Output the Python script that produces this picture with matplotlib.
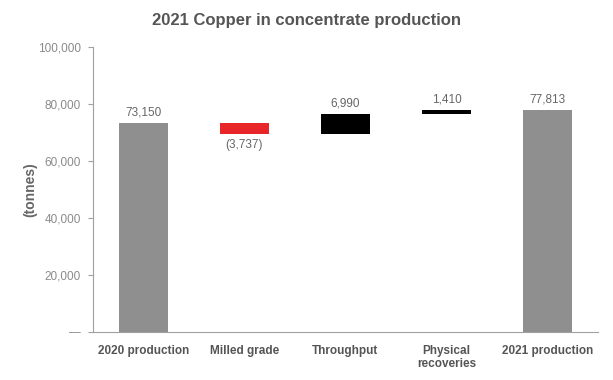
import matplotlib.pyplot as plt
from matplotlib.ticker import FuncFormatter

plt.rcParams["font.family"] = ["Liberation Sans", "DejaVu Sans"]

categories = ["2020 production", "Milled grade", "Throughput", "Physical\nrecoveries", "2021 production"]
start_value = 73150
changes = [-3737, 6990, 1410]
end_value = 77813
yticks = [0, 20000, 40000, 60000, 80000, 100000]

grey = "#8f8f8f"
text_grey = "#666666"

fig = plt.figure(figsize=(6.13, 3.80), dpi=100)
ax = fig.add_axes([0.1517, 0.1263, 0.8238, 0.7513])

# totals
ax.bar([0, 4], [start_value, end_value], width=0.485, color=grey, zorder=2)

# floating steps
level = start_value
for i, c in enumerate(changes):
    color = "#e8262a" if c < 0 else "black"
    ax.bar(i + 1, abs(c), bottom=min(level, level + c), width=0.485, color=color, zorder=2)
    if c < 0:
        ax.text(i + 1, level + c - 1900, f"({abs(c):,})", ha="center", va="top",
                fontsize=8.5, color=text_grey)
    else:
        ax.text(i + 1, level + c + 1700, f"{c:,}", ha="center", va="bottom",
                fontsize=8.5, color=text_grey)
    level += c

for x, v in [(0, start_value), (4, end_value)]:
    ax.text(x, v + 1700, f"{v:,}", ha="center", va="bottom", fontsize=8.5, color=text_grey)

ax.set_xlim(-0.5, 4.5)
ax.set_ylim(0, 100000)
ax.set_yticks(yticks)
ax.yaxis.set_major_formatter(FuncFormatter(lambda v, p: "\u2014" if v == 0 else f"{v:,.0f}"))
ax.set_xticks(range(len(categories)))
ax.set_xticklabels(categories, fontsize=8.5, fontweight="bold", color="#555555", va="top")
ax.tick_params(axis="x", length=0, pad=9)
ax.tick_params(axis="y", direction="out", length=3.6, color="#a0a0a0", labelsize=8.5,
               labelcolor="#8a8a8a", pad=5)

for s in ["top", "right"]:
    ax.spines[s].set_visible(False)
for s in ["left", "bottom"]:
    ax.spines[s].set_color("#a0a0a0")

ax.set_ylabel("(tonnes)", fontsize=10, fontweight="bold", color=text_grey)
ax.yaxis.set_label_coords(-0.11, 0.5)
fig.text(0.5, 0.945, "2021 Copper in concentrate production", ha="center", va="center",
         fontsize=12, fontweight="bold", color="#555555")

plt.savefig("out.png", dpi=100)
